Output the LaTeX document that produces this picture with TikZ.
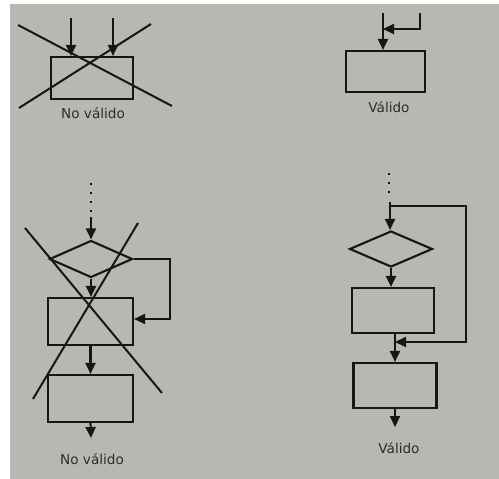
\documentclass[tikz,border=0pt]{standalone}
\usepackage{fontspec}
\setmainfont{DejaVu Sans}
\usetikzlibrary{arrows.meta,shapes.geometric}
\definecolor{paper}{HTML}{B9B7B1}
\definecolor{ink}{HTML}{161616}
\tikzset{
  box/.style={draw=ink, line width=2.1pt, rectangle, inner sep=0pt},
  dec/.style={draw=ink, line width=2.1pt, diamond, inner sep=0pt},
  flow/.style={draw=ink, line width=2.1pt, -{Triangle[length=11pt,width=10pt]}},
  crossline/.style={draw=ink, line width=2pt},
  dots/.style={draw=ink, line width=2.1pt, dash pattern=on 2pt off 7pt},
  lbl/.style={text=ink!90, font=\fontsize{13.6}{16}\selectfont, inner sep=0pt}
}
\begin{document}
\begin{tikzpicture}[x=1pt,y=-1pt]
\useasboundingbox (0,0) rectangle (499,479);
\fill[white] (0,0) rectangle (499,479);
\fill[paper] (10,4) rectangle (499,479);

% ---------- top left: No valido ----------
\node[box, minimum width=82pt, minimum height=42pt] (tlb) at (92,78) {};
\coordinate (tla) at (71,18);
\coordinate (tlc) at (113,18);
\draw[flow] (tla) -- (tla |- tlb.north);
\draw[flow] (tlc) -- (tlc |- tlb.north);
\coordinate (tlx1) at (18,25); \coordinate (tlx2) at (172,106);
\coordinate (tly1) at (19,108); \coordinate (tly2) at (151,24);
\draw[crossline] (tlx1) -- (tlx2);
\draw[crossline] (tly1) -- (tly2);
\node[lbl] (tll) at (93,113) {No válido};

% ---------- top right: Valido ----------
\node[box, minimum width=79pt, minimum height=41pt] (trb) at (385.5,71.5) {};
\coordinate (tra) at (383,13);
\draw[flow] (tra) -- (tra |- trb.north);
\coordinate (trs) at (420,13);
\coordinate (trk) at (420,29);
\draw[flow] (trs) -- (trk) -- (tra |- trk);
\node[lbl] (trl) at (389,107) {Válido};

% ---------- bottom left: No valido ----------
\coordinate (bld1) at (91,183);
\coordinate (bld2) at (91,212);
\draw[dots] (bld1) -- (bld2);
\coordinate (bls) at (91,217);
\node[dec, minimum width=83pt, minimum height=37pt] (bld) at (91,259) {};
\node[box, minimum width=85pt, minimum height=47pt] (blb1) at (90.5,321.5) {};
\node[box, minimum width=85pt, minimum height=47pt] (blb2) at (90.5,398.5) {};
\coordinate (ble) at (91,438);
\draw[flow] (bls) -- (bld.north);
\draw[flow] (bld.south) -- (bld.south |- blb1.north);
\draw[flow] (blb1.south) -- (blb2.north);
\draw[flow] (blb2.south) -- (ble);
\coordinate (blr) at (170,319);
\draw[flow] (bld.east) -- (bld.east -| blr) -- (blr) -- (blb1.east |- blr);
\coordinate (blx1) at (25,228); \coordinate (blx2) at (162,393);
\coordinate (bly1) at (138,223); \coordinate (bly2) at (33,399);
\draw[crossline] (blx1) -- (blx2);
\draw[crossline] (bly1) -- (bly2);
\node[lbl] (bll) at (92,459) {No válido};

% ---------- bottom right: Valido ----------
\coordinate (brd1) at (389,173);
\coordinate (brd2) at (389,198);
\draw[dots] (brd1) -- (brd2);
\coordinate (brs) at (390,202);
\node[dec, minimum width=83pt, minimum height=36pt] (brd) at (391,249) {};
\node[box, minimum width=82pt, minimum height=45pt] (brb1) at (393,310.5) {};
\node[box, minimum width=83pt, minimum height=45pt] (brb2) at (395,385.5) {};
\coordinate (bre) at (395,427);
\draw[flow] (brs) -- (brs |- brd.north);
\draw[flow] (brd.south) -- (brd.south |- brb1.north);
\draw[flow] (brb1.south -| brb2) -- (brb2.north);
\draw[flow] (brb2.south) -- (bre);
\coordinate (brj) at (390,206);
\coordinate (brr) at (466,342);
\draw[flow] (brj) -- (brj -| brr) -- (brr) -- (brb2.north |- brr);
\node[lbl] (brl) at (399,448) {Válido};
\end{tikzpicture}
\end{document}
